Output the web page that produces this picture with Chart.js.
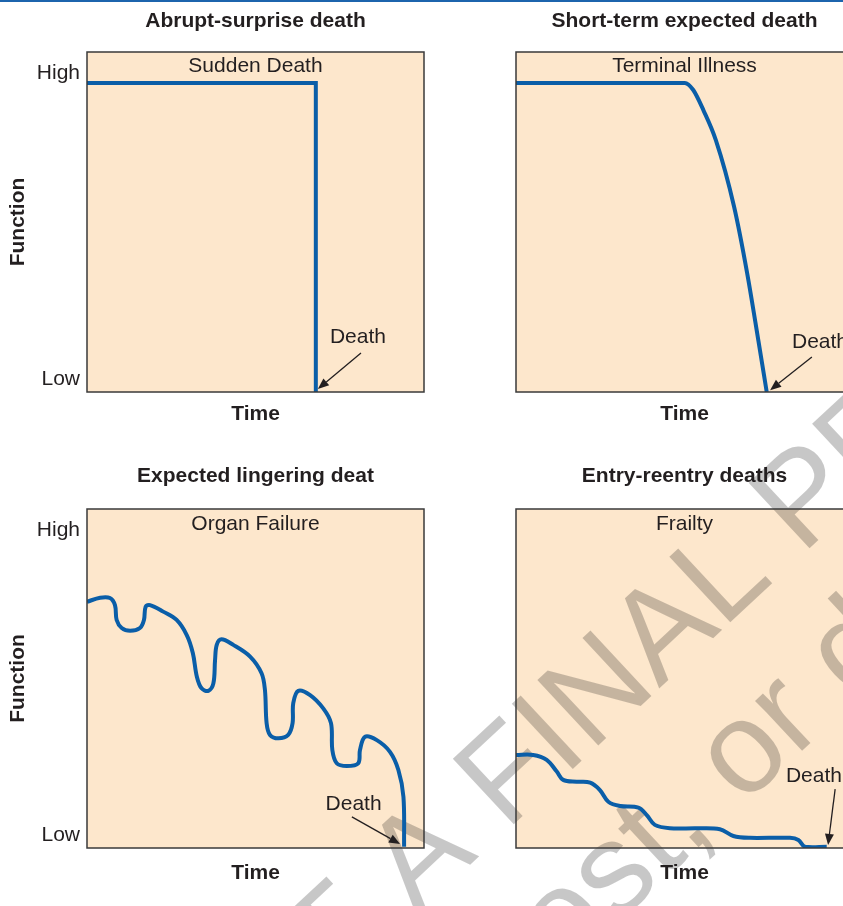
<!DOCTYPE html>
<html>
<head>
<meta charset="utf-8">
<script src="https://cdn.jsdelivr.net/npm/chart.js@4.4.1/dist/chart.umd.min.js"></script>
<style>
  html, body { margin: 0; padding: 0; background: #fff; overflow: hidden; }
  body { width: 843px; height: 906px; position: relative; }
  #rule { position: absolute; left: 0; top: 0; width: 843px; height: 2px; background: #1c64ad; z-index: 2; }
  canvas { position: absolute; }
</style>
</head>
<body>
<div id="rule"></div>
<canvas id="c1" width="430" height="450" style="left:0;top:0"></canvas>
<canvas id="c2" width="430" height="450" style="left:430px;top:0"></canvas>
<canvas id="c3" width="430" height="456" style="left:0;top:450px"></canvas>
<canvas id="c4" width="430" height="456" style="left:430px;top:450px"></canvas>
<script>
// panel texts
const panelTitles = ['Abrupt-surprise death', 'Short-term expected death', 'Expected lingering deat', 'Entry-reentry deaths'];
const panelNames = ['Sudden Death', 'Terminal Illness', 'Organ Failure', 'Frailty'];

// y ticks (Function axis, 0..110)
const tickValues = [4, 103];
const tickLabels = ['Low', 'High'];

// trajectories: time 0..100, function 0..110
const suddenTime = [0, 67.9, 67.9];
const suddenFunc = [100, 100, 0];

const terminalTime = [0, 50.1, 52.6, 55.6, 59.3, 64.7, 68.6, 71.9, 74.4];
const terminalFunc = [100, 100, 97.7, 91.2, 81.5, 60.0, 38.4, 16.8, 0];

const organTime = [0, 3.9, 6.8, 8.3, 8.8, 10.3, 12.8, 15.7, 16.9, 17.4, 18.7, 22.6, 26.6, 29.6, 31.4, 32.6,
  34.0, 36.0, 37.5, 38.0, 38.5, 39.9, 43.4, 48.4, 51.8, 52.8, 53.3, 54.3, 56.8, 59.7, 61.0, 61.2, 62.7,
  66.2, 70.1, 72.4, 72.8, 74.1, 77.1, 80.5, 81.0, 82.5, 86.0, 89.9, 92.4, 93.9, 94.1];
const organFunc = [79.9, 81.2, 81.1, 78.8, 74.0, 71.4, 70.5, 71.4, 74.0, 78.3, 78.8, 76.7, 74.0, 69.1, 63.3, 55.6,
  51.8, 51.0, 53.4, 61.0, 65.9, 67.7, 65.9, 62.1, 56.7, 51.3, 40.5, 36.7, 35.6, 36.7, 40.5, 47.0, 51.0,
  49.6, 45.3, 40.5, 31.8, 27.5, 26.6, 27.5, 31.8, 36.1, 35.0, 31.2, 25.3, 16.6, 0.4];

const frailtyTime = [0, 5.1, 9.1, 12.1, 14.0, 18.0, 22.0, 24.9, 27.4, 30.9, 36.3, 38.8, 41.2, 45.7, 53.6, 60.5,
  64.5, 69.4, 81.3, 83.8, 85.8, 92.2];
const frailtyFunc = [30.2, 30.2, 28.6, 24.8, 22.1, 21.5, 21.2, 18.8, 15.0, 13.6, 13.1, 10.7, 7.5, 6.4, 6.4, 6.1,
  3.9, 3.3, 3.3, 2.6, 0.4, 0.4];

const INK = '#231f20';
const BLUE = '#0a5ea8';
const PEACH = '#fde7cc';
const FONT = '"Liberation Sans", Arial, Helvetica, sans-serif';

const watermark = {
  angle: -43, size: 130, color: 'rgba(0,0,0,0.22)',
  lines: [
    { text: 'NOT A FINAL PROOF', start: [189, 1127] },
    { text: 'Do not copy, post, or distribute', start: [-43, 1539] }
  ]
};

function drawWatermark(ctx, ox, oy) {
  ctx.save();
  ctx.translate(-ox, -oy);
  ctx.font = watermark.size + 'px ' + FONT;
  ctx.fillStyle = watermark.color;
  ctx.textAlign = 'left';
  ctx.textBaseline = 'alphabetic';
  watermark.lines.forEach(l => {
    ctx.save();
    ctx.translate(l.start[0], l.start[1]);
    ctx.rotate(watermark.angle * Math.PI / 180);
    ctx.fillText(l.text, 0, 0);
    ctx.restore();
  });
  ctx.restore();
}

function arrow(ctx, x1, y1, x2, y2) {
  const a = Math.atan2(y2 - y1, x2 - x1);
  const len = 11, half = 4.5;
  const bx = x2 - len * Math.cos(a), by = y2 - len * Math.sin(a);
  ctx.beginPath();
  ctx.moveTo(x1, y1);
  ctx.lineTo(bx, by);
  ctx.stroke();
  ctx.beginPath();
  ctx.moveTo(x2, y2);
  ctx.lineTo(bx + half * Math.sin(a), by - half * Math.cos(a));
  ctx.lineTo(bx - half * Math.sin(a), by + half * Math.cos(a));
  ctx.closePath();
  ctx.fill();
}

const panelPlugin = {
  id: 'panel',
  beforeDraw(chart, args, opts) {
    const {ctx, chartArea: a} = chart;
    ctx.save();
    ctx.fillStyle = PEACH;
    ctx.fillRect(a.left, a.top, a.right - a.left, a.bottom - a.top);
    drawWatermark(ctx, opts.pageX, opts.pageY);
    ctx.restore();
  },
  afterDatasetsDraw(chart, args, opts) {
    const {ctx, chartArea: a, scales: {x, y}} = chart;
    ctx.save();
    ctx.strokeStyle = '#3a3a3a';
    ctx.lineWidth = 1.5;
    ctx.strokeRect(a.left, a.top, a.right - a.left, a.bottom - a.top);
    ctx.fillStyle = INK;
    ctx.font = '21px ' + FONT;
    ctx.textBaseline = 'alphabetic';
    ctx.textAlign = 'center';
    ctx.fillText(opts.name, x.getPixelForValue(50), y.getPixelForValue(opts.nameY));
    ctx.textAlign = opts.deathAlign;
    ctx.fillText('Death', x.getPixelForValue(opts.death[0]), y.getPixelForValue(opts.death[1]));
    ctx.strokeStyle = INK;
    ctx.lineWidth = 1.3;
    const p = opts.arrow;
    arrow(ctx, x.getPixelForValue(p[0]), y.getPixelForValue(p[1]), x.getPixelForValue(p[2]), y.getPixelForValue(p[3]));
    ctx.restore();
  }
};

function points(xs, ys) {
  return xs.map((v, i) => ({x: v, y: ys[i]}));
}

function makePanel(id, o) {
  const left = o.side === 'left';
  const bold = {family: FONT, size: 21, weight: 'bold', lineHeight: 1};
  new Chart(document.getElementById(id), {
    type: 'line',
    data: {
      datasets: [{
        data: points(o.xs, o.ys),
        borderColor: BLUE,
        borderWidth: 4,
        pointRadius: 0,
        fill: false,
        tension: o.tension,
        cubicInterpolationMode: o.mode,
        borderJoinStyle: o.join,
        borderCapStyle: 'butt'
      }]
    },
    options: {
      responsive: false,
      animation: false,
      events: [],
      layout: {padding: {left: 0, right: left ? 6 : 7, top: 0, bottom: 0}},
      plugins: {
        legend: {display: false},
        tooltip: {enabled: false},
        title: {
          display: true, text: o.title, fullSize: false, color: INK, font: bold,
          padding: {top: o.titleTop, bottom: o.titleBottom}
        },
        panel: {
          pageX: o.pageX, pageY: o.pageY, name: o.name, nameY: o.nameY,
          death: o.death, deathAlign: o.deathAlign, arrow: o.arrow
        }
      },
      scales: {
        x: {
          type: 'linear', min: 0, max: 100,
          grid: {display: false, drawTicks: false},
          border: {display: false},
          ticks: {display: false},
          title: {display: true, text: 'Time', color: INK, font: bold, padding: {top: 0, bottom: o.timePad}},
          afterFit: s => { s.height = o.xHeight; }
        },
        y: {
          type: 'linear', min: 0, max: 110,
          grid: {display: false, drawTicks: false},
          border: {display: false},
          afterBuildTicks: s => { s.ticks = tickValues.map(v => ({value: v})); },
          ticks: {
            display: left, padding: 7, color: INK,
            font: {family: FONT, size: 21, lineHeight: 1},
            callback: v => tickLabels[tickValues.indexOf(v)]
          },
          title: {display: left, text: 'Function', color: INK, font: bold, padding: {top: 7.5, bottom: 0}},
          afterFit: s => { s.width = left ? 87 : 86; }
        }
      }
    },
    plugins: [panelPlugin]
  });
}

const topRow = {titleTop: 10.5, titleBottom: 20.5, timePad: 25, xHeight: 58, pageY: 0};
const bottomRow = {titleTop: 15.5, titleBottom: 22.5, timePad: 22.5, xHeight: 58, pageY: 450};

makePanel('c1', Object.assign({}, topRow, {
  side: 'left', pageX: 0, title: panelTitles[0], name: panelNames[0], nameY: 103.5,
  xs: suddenTime, ys: suddenFunc, tension: 0, mode: 'default', join: 'miter',
  death: [80.4, 15.9], deathAlign: 'center', arrow: [81.3, 12.6, 68.5, 1.0]
}));
makePanel('c2', Object.assign({}, topRow, {
  side: 'right', pageX: 430, title: panelTitles[1], name: panelNames[1], nameY: 103.5,
  xs: terminalTime, ys: terminalFunc, tension: 0.4, mode: 'monotone', join: 'round',
  death: [81.9, 14.2], deathAlign: 'left', arrow: [87.8, 11.3, 75.4, 0.6]
}));
makePanel('c3', Object.assign({}, bottomRow, {
  side: 'left', pageX: 0, title: panelTitles[2], name: panelNames[2], nameY: 103.2,
  xs: organTime, ys: organFunc, tension: 0.35, mode: 'default', join: 'round',
  death: [79.1, 12.3], deathAlign: 'center', arrow: [78.6, 10.1, 92.9, 1.3]
}));
makePanel('c4', Object.assign({}, bottomRow, {
  side: 'right', pageX: 430, title: panelTitles[3], name: panelNames[3], nameY: 103.2,
  xs: frailtyTime, ys: frailtyFunc, tension: 0.35, mode: 'default', join: 'round',
  death: [80.1, 21.4], deathAlign: 'left', arrow: [94.7, 19.1, 92.6, 1.0]
}));
</script>
</body>
</html>
